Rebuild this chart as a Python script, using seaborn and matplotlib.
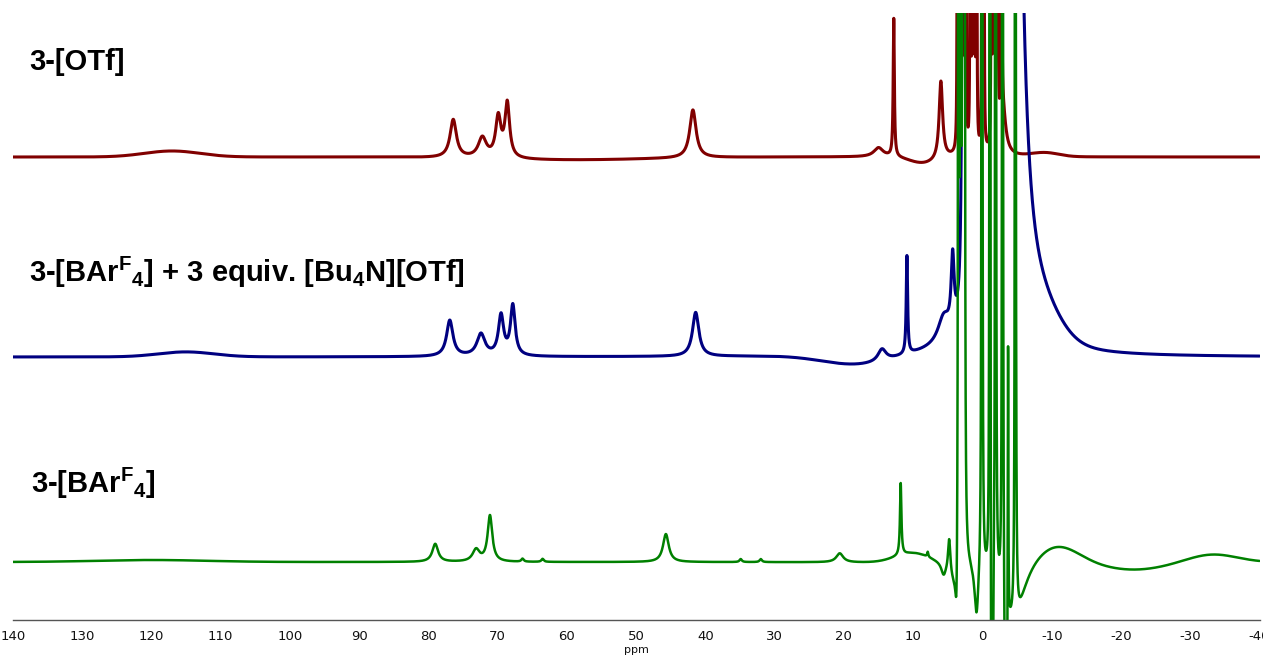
import numpy as np
import pandas as pd
import matplotlib
matplotlib.use("Agg")
import matplotlib.pyplot as plt
import seaborn as sns

# ---------------- data ----------------
# chemical-shift axis
ppm_left, ppm_right = 140, -40
tick_values = list(range(140, -41, -10))
tick_labels = [str(v) for v in tick_values]
axis_label = "ppm"

labels = ["3-[OTf]",
          r"3-[BAr${}^{\mathbf{F}}{}_{\mathbf{4}}$] + 3 equiv. [Bu$_{\mathbf{4}}$N][OTf]",
          r"3-[BAr${}^{\mathbf{F}}{}_{\mathbf{4}}$]"]
colors = ["#800000", "#000080", "#008000"]
baselines = [463, 263, 58]

# 3-[OTf]  : Lorentzian lines (ppm, height, half-width) and broad baseline humps
red_pos = [76.4, 72.2, 69.9, 68.6, 41.8, 15.0, 12.8, 6.0,
           3.6, 3.3, 3.0, 2.7, 2.4, 1.75, 1.45, 1.15, 0.85, 0.05, -0.2,
           -1.3, -1.6, -1.9, -2.2, -2.75, -2.9]
red_h = [38, 20, 40, 54, 48, 9, 138, 78,
         10000, 10000, 10000, 10000, 10000, 10000, 10000, 10000, 10000, 10000, 10000,
         10000, 10000, 10000, 10000, 8000, 50]
red_w = [0.55, 0.7, 0.45, 0.4, 0.55, 0.8, 0.1, 0.3,
         0.01, 0.01, 0.01, 0.01, 0.01, 0.01, 0.01, 0.01, 0.01, 0.01, 0.01,
         0.01, 0.01, 0.01, 0.01, 0.01, 0.5]
red_hump_pos = [117, 60, 8.5, -9]
red_hump_h = [6, -3, -7, 4]
red_hump_w = [4, 12, 2, 2]

# 3-[BArF4] + 3 equiv. [Bu4N][OTf]
blue_pos = [76.9, 72.4, 69.5, 67.8, 41.4, 14.5, 10.9, 5.6, 4.3,
            2.8, 2.4, 2.0, 1.6, 1.2, 0.8, 0.4, 0.0, -0.4, -0.8, -1.2, -1.6,
            -2.0, -2.4, -2.8, -3.2, -3.6, -4.0, -4.4, -4.5]
blue_h = [36, 22, 40, 50, 44, 12, 98, 25, 70,
          4000, 4000, 4000, 4000, 4000, 4000, 4000, 4000, 4000, 4000, 4000, 4000,
          4000, 4000, 4000, 4000, 4000, 4000, 4000, 1000]
blue_w = [0.55, 0.7, 0.45, 0.4, 0.55, 0.7, 0.12, 1.0, 0.25,
          0.05, 0.05, 0.05, 0.05, 0.05, 0.05, 0.05, 0.05, 0.05, 0.05, 0.05, 0.05,
          0.05, 0.05, 0.05, 0.05, 0.05, 0.05, 0.05, 1.0]
blue_hump_pos = [115, 18, -8]
blue_hump_h = [5, -10, 30]
blue_hump_w = [4, 5, 3]

# 3-[BArF4]
green_pos = [79.0, 73.1, 71.1, 66.4, 63.5, 45.7, 34.9, 32.0, 20.6, 11.8, 7.9, 5.6, 4.8,
             4.0, 3.72, 3.45, 3.15, 2.85, 2.6, 0.85, 0.07, -1.08, -1.37, -1.9,
             -2.9, -3.4, -3.7, -4.6, -4.75]
green_h = [18, 12, 46, 3, 3, 28, 3, 3, 9, 72, 5, -12, 35,
           -25, -75, 5000, 5000, 5000, 5000, -55, 5000, 5000, -5000, 5000,
           5000, -5000, 300, -62, 5000]
green_w = [0.5, 0.6, 0.4, 0.2, 0.2, 0.5, 0.2, 0.2, 0.6, 0.12, 0.1, 0.4, 0.2,
           0.8, 0.2, 0.03, 0.03, 0.03, 0.03, 0.35, 0.03, 0.03, 0.03, 0.03,
           0.03, 0.03, 0.05, 1.8, 0.03]
green_hump_pos = [120, 10, -10.5, -22, -33.2]
green_hump_h = [2, 10, 20, -7, 8]
green_hump_w = [8, 2.5, 3.3, 4.5, 3.5]

# ---------------- build traces ----------------
ppm = np.linspace(ppm_left, ppm_right, 72001)


def trace(pos, h, w, hpos, hh, hw, base):
    y = np.full_like(ppm, float(base))
    for p, a, g in zip(pos, h, w):
        y += a * g * g / ((ppm - p) ** 2 + g * g)
    for p, a, s in zip(hpos, hh, hw):
        y += a * np.exp(-0.5 * ((ppm - p) / s) ** 2)
    return y


traces = [
    trace(red_pos, red_h, red_w, red_hump_pos, red_hump_h, red_hump_w, baselines[0]),
    trace(blue_pos, blue_h, blue_w, blue_hump_pos, blue_hump_h, blue_hump_w, baselines[1]),
    trace(green_pos, green_h, green_w, green_hump_pos, green_hump_h, green_hump_w, baselines[2]),
]

# ---------------- plot ----------------
sns.set_style("white")
plt.rcParams["font.family"] = ["DejaVu Sans"]
plt.rcParams["mathtext.fontset"] = "custom"
plt.rcParams["mathtext.rm"] = "Liberation Sans"
plt.rcParams["mathtext.bf"] = "Liberation Sans:bold"
plt.rcParams["mathtext.it"] = "Liberation Sans:bold"

W, H = 1263, 661
fig = plt.figure(figsize=(W / 100, H / 100), dpi=100)
ax = fig.add_axes([12.7 / W, 41 / H, (1259.5 - 12.7) / W, (620 - 13) / H])

lws = [2.2, 2.2, 1.8]
for y, c, lw in zip(traces, colors, lws):
    df = pd.DataFrame({"ppm": ppm, "I": y})
    sns.lineplot(data=df, x="ppm", y="I", color=c, linewidth=lw, ax=ax,
                 estimator=None, sort=False)

ax.set_xlim(ppm_left, ppm_right)
ax.set_ylim(0, 607)
ax.set_yticks([])
ax.set_ylabel("")
for s in ["top", "left", "right"]:
    ax.spines[s].set_visible(False)
ax.spines["bottom"].set_color("#555555")
ax.spines["bottom"].set_linewidth(1.0)
ax.set_xticks(tick_values)
ax.set_xticklabels(tick_labels)
ax.set_xticks(np.arange(135, -40, -10), minor=True)
ax.tick_params(axis="x", which="major", direction="out", length=4.3, width=1,
               color="#555555", labelsize=9.5, pad=3, labelcolor="#111111")
ax.tick_params(axis="x", which="minor", direction="out", length=2.4, width=1,
               color="#555555")
ax.set_xlabel(axis_label, fontsize=8, labelpad=1, color="#111111")

label_y = [1 - 70 / H, 1 - 282 / H, 1 - 493 / H]
label_x = [29 / W, 29 / W, 31 / W]
for t, x, y in zip(labels, label_x, label_y):
    fig.text(x, y, t, fontsize=21, fontweight="bold", va="baseline", ha="left",
             family=["Liberation Sans"], color="black")

fig.savefig("out.png", dpi=100)
